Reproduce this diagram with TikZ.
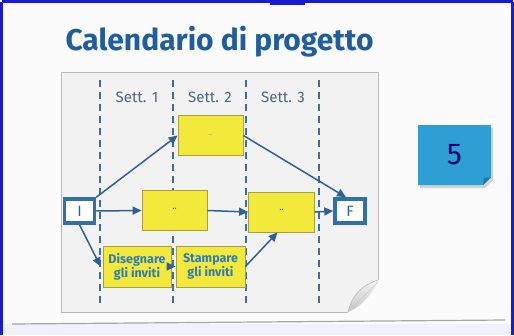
\documentclass[tikz,border=0pt]{standalone}
\usepackage{fontspec}
\setmainfont{Fira Sans}
\usetikzlibrary{arrows.meta,shadows}
\definecolor{frameblue}{HTML}{1A1AD0}
\definecolor{titleblue}{HTML}{1E5E9E}
\definecolor{arrblue}{HTML}{2F5F95}
\definecolor{dashblue}{HTML}{3A6EA5}
\definecolor{boxyellow}{HTML}{F2E93A}
\definecolor{boxedge}{HTML}{A8A040}
\definecolor{txtblue}{HTML}{2A7AC0}
\definecolor{lblgray}{HTML}{4A6680}
\definecolor{cardblue}{HTML}{2E9FD4}
\definecolor{nodeblue}{HTML}{3070A8}
\tikzset{
  act/.style={draw=boxedge, fill=boxyellow, line width=0.8pt, inner sep=0pt},
  endbox/.style={draw=nodeblue, fill=white, line width=3.5pt, minimum width=30pt, minimum height=24pt, inner sep=0pt, font=\fontsize{15}{15}\selectfont\color{arrblue}},
  conn/.style={draw=arrblue, line width=1.5pt, -{Triangle[length=9pt,width=8pt]}},
  weekline/.style={draw=dashblue, line width=2pt, dash pattern=on 7pt off 5pt},
  weeklbl/.style={font=\fontsize{15}{15}\selectfont, text=lblgray},
  acttxt/.style={font=\bfseries\fontsize{12.5}{14}\selectfont, text=txtblue, align=center}
}
\begin{document}
\begin{tikzpicture}[x=1pt,y=-1pt]
\useasboundingbox (0,0) rectangle (514,335);
% background
\fill[white!97!gray] (0,0) rectangle (514,335);
\fill[blue!6] (0,324) rectangle (514,335);
\draw[gray!70, line width=1.2pt] (12,324) -- (505,320);
% frame
\draw[frameblue, line width=3pt] (1.5,1.5) -- (512.5,1.5);
\draw[frameblue, line width=3pt] (1.5,1.5) -- (1.5,335);
\draw[frameblue, line width=3pt] (512.5,1.5) -- (512.5,335);
\fill[frameblue] (270,0) rectangle (305,5);
% title
\node[anchor=west, font=\bfseries\fontsize{30}{30}\selectfont, text=titleblue] (title) at (62,42) {Calendario di progetto};
% paper panel
\fill[gray!10] (61,72) -- (378,72) -- (378,280) -- (348,312) -- (61,312) -- cycle;
\draw[gray!55, line width=0.8pt] (348,312) -- (61,312) -- (61,72) -- (378,72) -- (378,280);
% curl
\shade[top color=gray!10, bottom color=gray!45] (348,312) .. controls (352,296) and (360,286) .. (378,280) -- (378,282) .. controls (368,300) and (358,308) .. (348,312) -- cycle;
\draw[gray!55, line width=0.6pt] (348,312) .. controls (352,296) and (360,286) .. (378,280);
\draw[gray!40, line width=0.6pt] (348,312) -- (378,282);
% week lines
\foreach \x/\n in {100/a,173/b,246/c,319/d} {
  \coordinate (t\n) at (\x,80);
  \coordinate (b\n) at (\x,306);
  \draw[weekline] (t\n) -- (b\n);
}
\node[weeklbl] (s1) at (137,97) {Sett. 1};
\node[weeklbl] (s2) at (210,97) {Sett. 2};
\node[weeklbl] (s3) at (283,97) {Sett. 3};
% activity boxes
\node[act, minimum width=65pt, minimum height=40pt, font=\fontsize{6}{6}\selectfont, text=gray] (top) at (210.5,135.5) {\raisebox{1pt}{...}};
\node[act, minimum width=65pt, minimum height=40pt, font=\bfseries\fontsize{8}{8}\selectfont, text=gray!70!black] (mid1) at (174.5,210.5) {\raisebox{4pt}{..}};
\node[act, minimum width=66pt, minimum height=40pt, font=\bfseries\fontsize{8}{8}\selectfont, text=gray!70!black] (mid2) at (281.5,212) {\raisebox{4pt}{..}};
\node[act, minimum width=68pt, minimum height=41pt, acttxt] (dis) at (137,266.5) {Disegnare\\gli inviti};
\node[act, minimum width=69pt, minimum height=41pt, acttxt] (sta) at (210.5,266.5) {Stampare\\gli inviti};
% start/end
\node[endbox] (I) at (79.5,211) {I};
\node[endbox] (F) at (350,211) {F};
% connectors
\draw[conn] (I.north east) -- (top.west);
\draw[conn] (I.east) -- (mid1.west);
\draw[conn] (I.south) -- ([xshift=-2pt]dis.west);
\draw[conn] (dis.east) -- (sta.west);
\draw[conn] (mid1.east) -- (mid2.west);
\draw[conn] (mid2.east) -- (F.west);
\draw[conn] (top.east) -- ([xshift=-4pt]F.north);
\draw[conn] (sta.east) -- ([xshift=-4pt]mid2.south);
% card 5
\fill[gray!35] (420,128) -- (493,128) -- (493,180) -- (485,188) -- (420,188) -- cycle;
\fill[cardblue] (418,125) -- (491,125) -- (491,177) -- (483,185) -- (418,185) -- cycle;
\fill[cardblue!75!black] (491,177) -- (484,178) -- (483,185) -- cycle;
\node[font=\fontsize{30}{30}\selectfont, text=black!55!blue] (five) at (454.5,155) {5};
\end{tikzpicture}
\end{document}
